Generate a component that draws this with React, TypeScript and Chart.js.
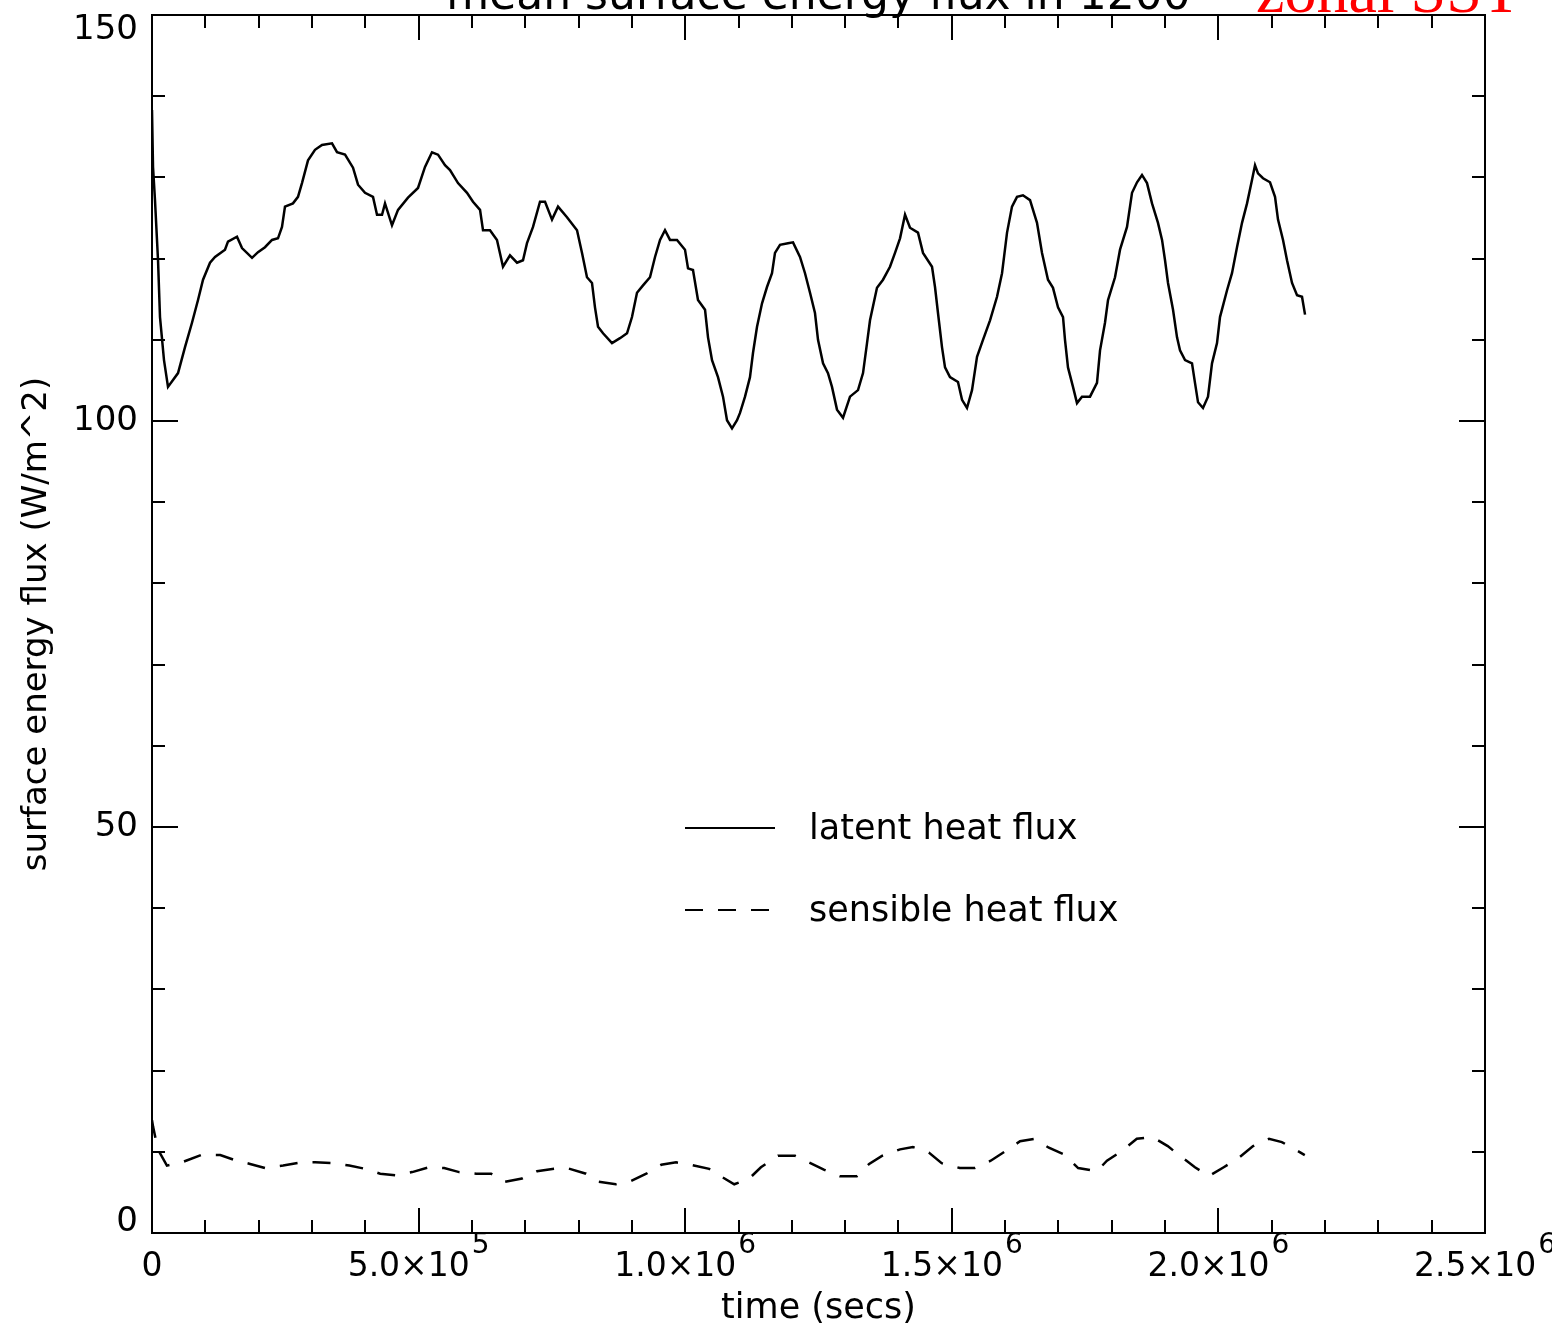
import React, { useEffect, useRef } from "react";
import { Chart, registerables } from "chart.js";

Chart.register(...registerables);

// ---- data (time in seconds, flux in W/m^2) ----
const latentTime = [
  0, 1900, 5600, 11300, 15000, 22500, 30000, 48800, 61900, 75000, 86300, 95700,
  108800, 118200, 136900, 142500, 159400, 168800, 187600, 198800, 211900, 225100,
  236300, 243800, 249400, 264400, 273800, 281300, 292600, 305700, 318800, 337600,
  347000, 362000, 377000, 386400, 399500, 414500, 422000, 431400, 437000, 450100,
  461400, 480100, 498900, 512000, 525100, 536400, 549500, 558900, 573900, 590800,
  602000, 615200, 620800, 633900, 647000, 658300, 671400, 684600, 695800, 703300,
  714600, 727700, 737100, 750200, 761500, 778300, 797100, 806500, 815800, 825200,
  830800, 836500, 845900, 862700, 877700, 890900, 900200, 909600, 920900, 934000,
  943400, 952800, 962100, 971500, 984600, 999600, 1005300, 1014600, 1024000,
  1037200, 1042800, 1050300, 1061500, 1070900, 1078400, 1087800, 1097200, 1102800,
  1112200, 1121500, 1127200, 1134700, 1144100, 1153400, 1162800, 1168400, 1177800,
  1192800, 1202200, 1215300, 1224700, 1234100, 1243400, 1249100, 1258500, 1267800,
  1275300, 1284700, 1296000, 1309100, 1324100, 1333500, 1341000, 1346600, 1359700,
  1371000, 1384100, 1393500, 1402900, 1412300, 1421600, 1436600, 1446000, 1462900,
  1468500, 1474100, 1481600, 1487300, 1496600, 1511600, 1519200, 1528500, 1537900,
  1547300, 1558500, 1571700, 1584800, 1594200, 1603600, 1612900, 1622300, 1633500,
  1646700, 1659800, 1669200, 1680400, 1689800, 1699200, 1708600, 1712300, 1717900,
  1727300, 1734800, 1744200, 1759200, 1772300, 1778000, 1787300, 1793000, 1806100,
  1815500, 1828600, 1838000, 1847400, 1856700, 1866100, 1875500, 1886700, 1894300,
  1899900, 1905500, 1914900, 1922400, 1928000, 1937400, 1950500, 1956100, 1961800,
  1971100, 1980500, 1988000, 1997400, 2003000, 2016200, 2025500, 2034900, 2044300,
  2053700, 2063100, 2068700, 2074300, 2083700, 2096800, 2106200, 2111800, 2121200,
  2128700, 2138100, 2147500, 2156800, 2162500,
];
const latentFlux = [
  138.3, 131.3, 127.2, 119.8, 112.8, 107.5, 104.2, 105.9, 109.1, 112.1, 114.9, 117.4,
  119.5, 120.2, 121.1, 122.1, 122.7, 121.3, 120.1, 120.8, 121.4, 122.3,
  122.5, 123.9, 126.4, 126.8, 127.6, 129.3, 132.1, 133.4, 134.0, 134.2,
  133.1, 132.8, 131.2, 129.1, 128.1, 127.6, 125.4, 125.4, 126.8, 124.1,
  126.0, 127.5, 128.7, 131.3, 133.1, 132.8, 131.5, 130.9, 129.3, 128.1,
  127.0, 126.0, 123.5, 123.5, 122.3, 119.0, 120.4, 119.5, 119.8, 121.9,
  123.9, 127.0, 127.0, 124.8, 126.4, 125.1, 123.5, 120.7, 117.7, 117.0,
  114.0, 111.6, 110.8, 109.6, 110.2, 110.8, 112.8, 115.8, 116.7, 117.7,
  120.2, 122.3, 123.5, 122.3, 122.3, 121.1, 118.8, 118.6, 114.9,
  113.7, 110.3, 107.5, 105.4, 103.0, 100.1, 99.1, 100.1, 101.0,
  103.0, 105.4, 108.4, 111.6, 114.5, 116.5, 118.2, 120.7, 121.7,
  121.9, 122.0, 120.2, 118.2, 115.8, 113.3, 110.0, 107.1, 105.9,
  104.2, 101.4, 100.4, 103.0, 103.8, 105.9, 109.6, 112.4, 116.4,
  117.4, 119.0, 120.7, 122.5, 125.4, 123.8, 123.2, 120.7, 119.0,
  116.5, 113.3, 109.1, 106.6, 105.4, 104.8, 102.6, 101.6, 103.8,
  107.9, 110.0, 112.4, 115.3, 118.2, 123.2, 126.4, 127.6, 127.8,
  127.2, 124.4, 120.7, 117.4, 116.4, 114.0, 112.8, 110.0, 106.6,
  104.2, 102.2, 103.0, 103.0, 104.7, 108.7, 112.1, 114.9, 117.7,
  121.1, 123.9, 128.1, 129.4, 130.3, 129.3, 126.8, 124.4, 122.3,
  119.8, 117.0, 113.7, 110.3, 108.7, 107.5, 107.1, 104.7, 102.3,
  101.6, 103.0, 107.1, 109.6, 112.8, 116.1, 118.2, 121.4, 124.4,
  126.8, 129.7, 131.5, 130.5, 129.9, 129.4, 127.6, 124.8, 122.3,
  119.8, 117.0, 115.5, 115.3, 113.1,
];
const sensibleTime = [
  0, 2000, 11000, 28000, 56000, 92000, 128000, 154000, 184000, 212000, 246000,
  281000, 306000, 338000, 370000, 400000, 428000, 456000, 488000, 520000, 548000,
  576000, 608000, 636000, 661000, 694000, 722000, 754000, 778000, 814000, 838000,
  870000, 898000, 927000, 955000, 983000, 1011000, 1045000, 1069000, 1092000,
  1120000, 1142000, 1174000, 1206000, 1232000, 1260000, 1290000, 1322000, 1345000,
  1369000, 1403000, 1427000, 1457000, 1481000, 1515000, 1543000, 1573000, 1601000,
  1628000, 1656000, 1682000, 1710000, 1737000, 1772000, 1791000, 1819000, 1847000,
  1877000, 1905000, 1928000, 1956000, 1982000, 2010000, 2037000, 2065000, 2095000,
  2119000, 2149000, 2162000,
];
const sensibleFlux = [
  13.9, 13.1, 10.3, 8.3, 8.7, 9.6, 9.6, 9.0, 8.5, 8.0, 8.3,
  8.7, 8.7, 8.6, 8.3, 7.9, 7.3, 7.1, 7.5, 8.1, 8.0,
  7.5, 7.3, 7.3, 6.3, 6.7, 7.6, 7.9, 8.0, 7.3, 6.3,
  6.0, 6.4, 7.3, 8.4, 8.7, 8.4, 7.9, 6.9, 6.0,
  6.7, 8.1, 9.5, 9.5, 8.7, 7.8, 7.0, 7.0, 8.5,
  9.5, 10.3, 10.6, 9.9, 8.6, 8.0, 8.0, 8.9, 10.1,
  11.3, 11.6, 10.5, 9.7, 8.0, 7.6, 8.9, 10.1, 11.6,
  11.8, 10.7, 9.5, 8.1, 7.0, 8.1, 9.2, 10.7, 11.6,
  11.2, 10.1, 9.6,
];

const seriesLabels = ["latent heat flux", "sensible heat flux"];
const xTickValues = [0, 500000, 1000000, 1500000, 2000000, 2500000];
const xTickMantissa = ["0", "5.0×10", "1.0×10", "1.5×10", "2.0×10", "2.5×10"];
const xTickExponent = ["", "5", "6", "6", "6", "6"];
const yTickValues = [0, 50, 100, 150];
const yTickLabels = ["0", "50", "100", "150"];
const xAxisTitle = "time (secs)";
const yAxisTitle = "surface energy flux (W/m^2)";
const titleText = "mean surface energy flux in 1200";
const cornerText = "zonal SST";

const FONT = "'DejaVu Sans', 'Noto Sans', sans-serif";
const SENSIBLE_DASH = [18, 15];

const framePlugin = {
  id: "frameTicks",
  afterDraw(chart: any) {
    const { ctx, chartArea: a, scales } = chart;
    const xs = scales.x;
    const ys = scales.y;
    ctx.save();
    ctx.strokeStyle = "#000";
    ctx.fillStyle = "#000";
    ctx.lineWidth = 2;
    ctx.setLineDash([]);
    const seg = (x1: number, y1: number, x2: number, y2: number) => {
      ctx.beginPath();
      ctx.moveTo(x1, y1);
      ctx.lineTo(x2, y2);
      ctx.stroke();
    };
    ctx.strokeRect(a.left, a.top, a.right - a.left, a.bottom - a.top);

    // x ticks: minor every 1e5, major every 5e5
    for (let i = 0; i <= 25; i++) {
      const px = Math.round(xs.getPixelForValue(i * 100000));
      const len = i % 5 === 0 ? 25 : 13;
      seg(px, a.bottom, px, a.bottom - len);
      seg(px, a.top, px, a.top + len);
    }
    // y ticks: minor every 10, major every 50
    for (let i = 0; i <= 15; i++) {
      const py = Math.round(ys.getPixelForValue(i * 10));
      const len = i % 5 === 0 ? 26 : 13;
      seg(a.left, py, a.left + len, py);
      seg(a.right, py, a.right - len, py);
    }

    // y tick labels
    ctx.font = `34px ${FONT}`;
    ctx.textAlign = "right";
    ctx.textBaseline = "middle";
    yTickValues.forEach((v, i) => {
      let py = ys.getPixelForValue(v);
      py = Math.min(Math.max(py, a.top + 15), a.bottom - 11);
      ctx.fillText(yTickLabels[i], a.left - 14, py);
    });

    // x tick labels with exponent
    ctx.textAlign = "left";
    xTickValues.forEach((v, i) => {
      const px = xs.getPixelForValue(v);
      const m = xTickMantissa[i];
      const e = xTickExponent[i];
      ctx.font = `33px ${FONT}`;
      const w1 = ctx.measureText(m).width;
      ctx.font = `28px ${FONT}`;
      const w2 = e ? ctx.measureText(e).width + 2 : 0;
      const start = px - (w1 + w2) / 2;
      ctx.font = `33px ${FONT}`;
      ctx.fillText(m, start, a.bottom + 34);
      if (e) {
        ctx.font = `28px ${FONT}`;
        ctx.fillText(e, start + w1 + 2, a.bottom + 13);
      }
    });

    // legend
    const lx0 = a.left + 533;
    const lx1 = a.left + 623;
    const ly = [a.top + 813, a.top + 895];
    const ds = chart.data.datasets;
    ctx.font = `35px ${FONT}`;
    ds.forEach((d: any, i: number) => {
      ctx.lineWidth = 2;
      ctx.setLineDash(d.borderDash || []);
      seg(lx0, ly[i], lx1, ly[i]);
      ctx.setLineDash([]);
      ctx.textBaseline = "middle";
      ctx.fillText(d.label, a.left + 657, ly[i] + 2);
    });

    // title (cut off at top)
    ctx.textAlign = "center";
    ctx.textBaseline = "alphabetic";
    ctx.font = `44px ${FONT}`;
    ctx.fillText(titleText, (a.left + a.right) / 2, 9);
    ctx.textAlign = "left";
    ctx.fillStyle = "#ff0000";
    ctx.font = `64px 'Liberation Serif', 'Times New Roman', serif`;
    ctx.fillText(cornerText, 1256, 12);
    ctx.restore();
  },
};

export default function App() {
  const ref = useRef<HTMLCanvasElement | null>(null);
  useEffect(() => {
    if (!ref.current) return;
    const latent = latentTime.map((t, i) => ({ x: t, y: latentFlux[i] }));
    const sensible = sensibleTime.map((t, i) => ({ x: t, y: sensibleFlux[i] }));
    const chart = new Chart(ref.current, {
      type: "line",
      data: {
        datasets: [
          {
            label: seriesLabels[0],
            data: latent,
            borderColor: "#000",
            borderWidth: 2.5,
            pointRadius: 0,
            tension: 0,
            fill: false,
          },
          {
            label: seriesLabels[1],
            data: sensible,
            borderColor: "#000",
            borderWidth: 2.5,
            borderDash: SENSIBLE_DASH,
            pointRadius: 0,
            tension: 0,
            fill: false,
          },
        ],
      },
      options: {
        responsive: false,
        animation: false,
        devicePixelRatio: 1,
        layout: { padding: { top: 15, right: 67, left: 0, bottom: 0 } },
        plugins: {
          legend: { display: false },
          tooltip: { enabled: false },
          title: { display: false },
        },
        scales: {
          x: {
            type: "linear",
            min: 0,
            max: 2500000,
            grid: { display: false },
            border: { display: false },
            ticks: { display: false, stepSize: 500000 },
            title: {
              display: true,
              text: xAxisTitle,
              color: "#000",
              font: { family: FONT, size: 35 },
              padding: { top: 0, bottom: 0 },
            },
            afterFit: (s: any) => {
              s.height = 97;
            },
          },
          y: {
            type: "linear",
            min: 0,
            max: 150,
            grid: { display: false },
            border: { display: false },
            ticks: { display: false, stepSize: 50 },
            title: {
              display: true,
              text: yAxisTitle,
              color: "#000",
              font: { family: FONT, size: 34 },
              padding: { top: 17, bottom: 0 },
            },
            afterFit: (s: any) => {
              s.width = 152;
            },
          },
        },
      } as any,
      plugins: [framePlugin],
    });
    return () => chart.destroy();
  }, []);
  return (
    <div style={{ position: "absolute", left: 0, top: 0, width: 1552, height: 1330 }}>
      <canvas ref={ref} width={1552} height={1330} style={{ display: "block", width: 1552, height: 1330 }} />
    </div>
  );
}
